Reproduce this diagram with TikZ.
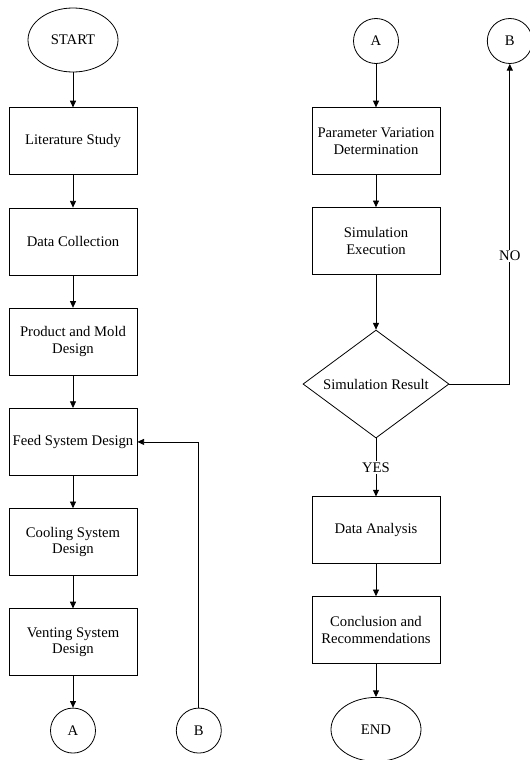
\documentclass[tikz,border=0pt]{standalone}
\usepackage{fontspec}
\setmainfont{Liberation Serif}
\usetikzlibrary{positioning,arrows.meta,shapes.geometric}

\begin{document}
\begin{tikzpicture}[x=0.75pt, y=0.75pt,
      font=\fontsize{11}{12.5}\selectfont,
      box/.style={rectangle, draw, line width=0.6pt, minimum width=96pt,
                  minimum height=50.25pt, align=center, inner sep=2pt},
      term/.style={ellipse, draw, line width=0.6pt, minimum width=67.5pt,
                   minimum height=48pt},
      conn/.style={circle, draw, line width=0.6pt, minimum size=33.75pt, inner sep=0pt},
      decision/.style={diamond, draw, line width=0.6pt, aspect=1.35,
                       minimum width=109.5pt, minimum height=81pt, inner sep=0pt},
      arr/.style={-{Triangle[length=5pt,width=4.5pt]}, line width=0.6pt}]
      \useasboundingbox (0,0) rectangle (529,-760);
      % left column
      \node[term] (start) at (73,-40) {START};
      \node[box, below=26.25pt of start] (lit) {Literature Study};
      \node[box, below=24.3pt of lit] (data) {Data Collection};
      \node[box, below=24.3pt of data] (mold) {Product and Mold\\Design};
      \node[box, below=24.3pt of mold] (feed) {Feed System Design};
      \node[box, below=24.3pt of feed] (cool) {Cooling System\\Design};
      \node[box, below=24.3pt of cool] (vent) {Venting System\\Design};
      \node[conn, below=23.6pt of vent] (outA) {A};
      \node[conn, right=60pt of outA] (outB) {B};
      % right column
      \node[conn] (inA) at (376,-41) {A};
      \node[conn, right=66pt of inA] (inB) {B};
      \node[box, below=32.6pt of inA] (param) {Parameter Variation\\Determination};
      \node[box, below=24pt of param] (sim) {Simulation\\Execution};
      \node[decision, below=41pt of sim] (check) {Simulation Result};
      \node[box, below=43.5pt of check] (anal) {Data Analysis};
      \node[box, below=24pt of anal] (concl) {Conclusion and\\Recommendations};
      \node[term, below=24.75pt of concl] (stop) {END};
      % arrows
      \draw[arr] (start) -- (lit);
      \draw[arr] (lit) -- (data);
      \draw[arr] (data) -- (mold);
      \draw[arr] (mold) -- (feed);
      \draw[arr] (feed) -- (cool);
      \draw[arr] (cool) -- (vent);
      \draw[arr] (vent) -- (outA);
      \draw[arr] (outB) |- (feed);
      \draw[arr] (inA) -- (param);
      \draw[arr] (param) -- (sim);
      \draw[arr] (sim) -- (check);
      \draw[arr] (check) -- node[fill=white, inner sep=1pt] {YES} (anal);
      \draw[arr] (check) -| node[pos=0.7, fill=white, inner sep=1pt] {NO} (inB);
      \draw[arr] (anal) -- (concl);
      \draw[arr] (concl) -- (stop);
    \end{tikzpicture}
\end{document}
